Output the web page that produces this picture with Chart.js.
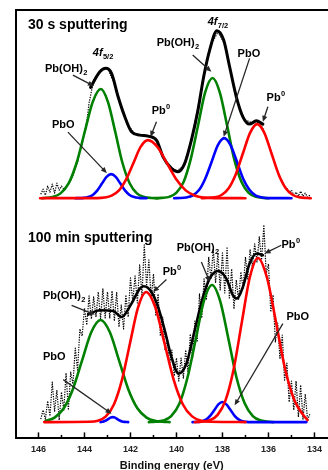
<!DOCTYPE html>
<html><head><meta charset="utf-8">
<script src="https://cdn.jsdelivr.net/npm/chart.js@4.4.1/dist/chart.umd.min.js"></script>
<style>html,body{margin:0;padding:0;background:#fff;}#wrap{width:328px;height:470px;}</style>
</head><body><div id="wrap"><canvas id="c" width="328" height="470"></canvas></div>
<script>
// ---------- DATA (binding energy eV, intensity a.u.) ----------
const tickValues = [146, 144, 142, 140, 138, 136, 134];
const minorTickValues = [146, 145, 144, 143, 142, 141, 140, 139, 138, 137, 136, 135, 134];

// 30 s sputtering
const topGreen1 = [[145.85,0],[145.74,0.2],[145.39,1.2],[145.04,4.8],[144.69,14.7],[144.34,35.4],[143.99,66.1],[143.64,96.2],[143.29,109],[142.98,96.2],[142.66,66.1],[142.35,35.4],[142.03,14.7],[141.72,4.8],[141.40,1.2],[141.09,0.2],[140.80,0]];
const topBlue1 = [[144.40,0],[144.24,0.05],[144.04,0.3],[143.84,1.1],[143.64,3.2],[143.44,7.8],[143.24,14.6],[143.04,21.2],[142.84,24],[142.64,21.2],[142.44,14.6],[142.24,7.8],[142.04,3.2],[141.84,1.1],[141.64,0.3],[141.44,0.05],[141.30,0]];
const topRed1 = [[145.93,0],[143.45,0.1],[143.13,0.6],[142.82,2.5],[142.50,7.8],[142.19,18.8],[141.87,35.2],[141.56,51.2],[141.24,58],[140.83,51.2],[140.42,35.2],[140.01,18.8],[139.60,7.8],[139.19,2.5],[138.78,0.6],[138.37,0.1],[137.00,0]];
const topGreen2 = [[140.90,0],[140.64,0.3],[140.32,1.3],[140.01,5.3],[139.69,16.2],[139.38,39.0],[139.06,72.8],[138.75,105.9],[138.43,120],[138.12,105.9],[137.80,72.8],[137.49,39.0],[137.17,16.2],[136.86,5.3],[136.54,1.3],[136.23,0.3],[136.00,0]];
const topBlue2 = [[140.10,0],[139.85,0.1],[139.57,0.7],[139.30,2.6],[139.02,8.1],[138.75,19.5],[138.47,36.4],[138.20,53.0],[137.92,60],[137.65,53.0],[137.37,36.4],[137.10,19.5],[136.82,8.1],[136.55,2.6],[136.27,0.7],[135.99,0.1],[135.00,0]];
const topRed2 = [[138.90,0],[138.66,0.2],[138.35,0.8],[138.04,3.2],[137.73,10.0],[137.42,24.0],[137.11,44.9],[136.80,65.3],[136.49,74],[136.18,65.3],[135.87,44.9],[135.56,24.0],[135.25,10.0],[134.94,3.2],[134.63,0.8],[134.32,0.2],[134.16,0]];
const topEnvelope = [[143.735,110.7],[143.331,126.3],[143.071,129.7],[142.823,124.7],[142.537,101.3],[142.246,81.3],[141.955,66.3],[141.595,63],[141.235,62],[140.870,58],[140.584,41.3],[140.219,29.7],[139.933,26.3],[139.642,34.7],[139.351,58],[139.065,88],[138.817,121.3],[138.557,148],[138.240,167.3],[137.949,158],[137.689,131.3],[137.398,101.3],[137.112,81.3],[136.821,74],[136.530,77.3],[136.243,74]];
const topRaw = [[145.9,4],[145.8,9],[145.7,3],[145.6,12],[145.5,6],[145.4,14],[145.3,5],[145.2,15],[145.1,8],[145.0,12],[144.9,9],[144.8,11],[144.7,14],[144.6,18],[144.5,23],[144.4,30],[144.3,36],[144.2,47],[144.1,54],[144.0,66],[143.9,76],[143.8,95],[143.6,118],[143.3,128],[143.0,130],[142.7,114],[142.4,90],[142.1,73],[141.8,64],[141.5,63],[141.2,62],[140.9,58],[140.6,42],[140.3,32],[140.0,27],[139.7,32],[139.4,54],[139.1,86],[138.8,124],[138.5,153],[138.2,166],[137.9,154],[137.6,121],[137.3,92],[137.0,78],[136.7,75],[136.4,76],[136.2,68],[136.1,60],[136.0,55],[135.9,48],[135.8,40],[135.7,33],[135.6,27],[135.5,20],[135.4,17],[135.3,12],[135.2,10],[135.1,6],[135.0,8],[134.9,3],[134.8,6],[134.7,2],[134.6,7],[134.5,2],[134.4,5],[134.3,1],[134.2,3]];

// 100 min sputtering
const botGreen1 = [[145.70,1.1],[145.30,4.5],[144.90,13.8],[144.50,33.1],[144.10,61.9],[143.70,90.0],[143.30,102],[142.90,90.0],[142.50,61.9],[142.10,33.1],[141.70,13.8],[141.30,4.5],[140.90,1.1],[140.50,0.2],[140.30,0]];
const botBlue1 = [[143.30,0],[143.27,0.2],[143.17,0.7],[143.07,1.6],[142.97,3.0],[142.87,4.4],[142.77,5],[142.67,4.4],[142.57,3.0],[142.47,1.6],[142.37,0.7],[142.27,0.2],[142.10,0]];
const botRed1 = [[145.75,0],[143.77,0.3],[143.42,1.4],[143.07,5.7],[142.72,17.6],[142.37,42.2],[142.02,78.8],[141.67,114.7],[141.32,130],[140.92,114.7],[140.52,78.8],[140.12,42.2],[139.72,17.6],[139.32,5.7],[138.92,1.4],[138.52,0.3],[137.00,0]];
const botGreen2 = [[141.20,0],[140.93,0.3],[140.58,1.5],[140.23,6.0],[139.87,18.5],[139.52,44.5],[139.16,83.1],[138.81,120.9],[138.45,137],[138.10,120.9],[137.74,83.1],[137.39,44.5],[137.03,18.5],[136.68,6.0],[136.32,1.5],[135.97,0.3],[135.80,0]];
const botBlue2 = [[139.30,0],[139.05,0.2],[138.88,0.9],[138.70,2.7],[138.53,6.5],[138.35,12.1],[138.18,17.7],[138.00,20],[137.83,17.7],[137.65,12.1],[137.48,6.5],[137.30,2.7],[137.13,0.9],[136.95,0.2],[136.78,0],[134.35,0]];
const botRed2 = [[139.20,0],[138.91,0.4],[138.56,1.8],[138.21,7.2],[137.86,22.2],[137.51,53.3],[137.16,99.5],[136.81,144.7],[136.46,164],[136.07,144.7],[135.67,99.5],[135.28,53.3],[134.88,22.2],[134.49,7.2],[134.30,2]];
const botEnvelope = [[143.839,107.4],[143.331,111.7],[142.754,111],[142.389,105],[141.955,118.4],[141.595,133.4],[141.421,135.7],[141.087,130],[140.801,115],[140.510,91.7],[140.219,65],[139.902,48.4],[139.568,58.4],[139.208,91.7],[138.848,125],[138.557,143.4],[138.197,151],[137.832,143.4],[137.546,126.7],[137.372,123.4],[137.112,135],[136.821,158.4],[136.504,168.4],[136.243,166.7]];
const botRaw = [[145.9,3],[145.8,12],[145.7,3],[145.6,21],[145.5,6],[145.4,40],[145.3,11],[145.2,32],[145.1,2],[145.0,30],[144.9,12],[144.8,49],[144.7,12],[144.6,50],[144.5,38],[144.4,74],[144.3,52],[144.2,93],[144.1,86],[144.0,114],[143.9,97],[143.8,126],[143.7,103],[143.6,125],[143.5,105],[143.4,130],[143.3,103],[143.2,133],[143.1,104],[143.0,130],[142.9,104],[142.8,131],[142.7,101],[142.6,130],[142.5,95],[142.4,117],[142.3,93],[142.2,127],[142.1,105],[142.0,144],[141.9,120],[141.8,146],[141.7,119],[141.6,157],[141.5,126],[141.4,177],[141.3,136],[141.2,162],[141.1,123],[141.0,148],[140.9,107],[140.8,128],[140.7,86],[140.6,105],[140.5,72],[140.4,85],[140.3,57],[140.2,72],[140.1,46],[140.0,64],[139.9,41],[139.8,64],[139.7,44],[139.6,72],[139.5,50],[139.4,88],[139.3,64],[139.2,101],[139.1,80],[139.0,128],[138.9,104],[138.8,143],[138.7,122],[138.6,165],[138.5,143],[138.4,173],[138.3,139],[138.2,169],[138.1,132],[138.0,169],[137.9,129],[137.8,175],[137.7,124],[137.6,153],[137.5,113],[137.4,142],[137.3,122],[137.2,150],[137.1,133],[137.0,165],[136.9,143],[136.8,172],[136.7,155],[136.6,178],[136.5,160],[136.4,185],[136.3,162],[136.2,197],[136.1,148],[136.0,158],[135.9,110],[135.8,127],[135.7,80],[135.6,99],[135.5,63],[135.4,87],[135.3,42],[135.2,59],[135.1,20],[135.0,41],[134.9,12],[134.8,41],[134.7,5],[134.6,37],[134.5,3],[134.4,28],[134.3,2],[134.2,8]];

// annotation texts (anchored in data space)
const labelText  = ['30 s sputtering','4f','Pb(OH)','PbO','Pb','4f','Pb(OH)','PbO','Pb','100 min sputtering','Pb(OH)','PbO','Pb','Pb(OH)','Pb','PbO'];
const labelSub   = ['','5/2','2','','','7/2','2','','','','2','','','2','',''];
const labelSup   = ['','','','','0','','','','0','','','','0','','0',''];
const labelPanel = ['yT','yT','yT','yT','yT','yT','yT','yT','yT','yB','yB','yB','yB','yB','yB','yB'];
const labelX     = [146.456,143.635,145.718,145.415,141.074,138.644,140.857,137.342,136.083,146.456,145.805,145.805,140.597,139.989,135.432,135.215];
const labelY     = [173,145,129,73,87,176,155,144.5,100,183.7,125.7,64.7,149.7,173.7,176.7,105.2];
const arrowPanel = ['yT','yT','yT','yT','yT','yT','yB','yB','yB','yB','yB','yB'];
const arrowFrom  = [[144.503,123],[144.720,66],[140.870,76.3],[139.295,143],[136.821,139.7],[136.026,91.3],[144.559,116.7],[144.924,42.4],[140.436,142.4],[138.917,160],[135.445,176.7],[135.375,98.4]];
const arrowTo    = [[143.592,112],[143.027,25],[141.131,61.3],[138.483,126.3],[137.949,61.3],[136.243,76.3],[143.548,107.4],[142.823,8.4],[141.018,130],[138.557,140],[136.170,168.4],[137.472,16.7]];

// ---------- CHART ----------
const FONT = '"Liberation Sans", Arial, Helvetica, sans-serif';
const X_MIN = 133.436, X_MAX = 146.977;
const RED = '#ff0000', GREEN = '#008000', BLUE = '#0000ff', BLACK = '#000000';
function pts(a){ return a.map(p => ({x: p[0], y: p[1]})); }
function line(data, color, width, yAxisID, order, extra){
  return Object.assign({ data: pts(data), borderColor: color, backgroundColor: color, borderWidth: width,
    pointRadius: 0, fill: false, xAxisID: 'x', yAxisID: yAxisID, order: order,
    cubicInterpolationMode: 'monotone', borderCapStyle: 'round', borderJoinStyle: 'round' }, extra || {});
}
const rawStyle = { borderDash: [1.3, 1.2], cubicInterpolationMode: 'default', tension: 0, borderCapStyle: 'butt' };

const datasets = [
  line(topRed1, RED, 2.6, 'yT', 1), line(topRed2, RED, 2.6, 'yT', 1),
  line(topBlue1, BLUE, 2.6, 'yT', 2), line(topBlue2, BLUE, 2.6, 'yT', 2),
  line(topGreen1, GREEN, 2.6, 'yT', 3), line(topGreen2, GREEN, 2.6, 'yT', 3),
  line(topEnvelope, BLACK, 3, 'yT', 4),
  line(topRaw, BLACK, 1.2, 'yT', 5, rawStyle),
  line(botRed1, RED, 2.6, 'yB', 1), line(botRed2, RED, 2.6, 'yB', 1),
  line(botBlue1, BLUE, 2.6, 'yB', 2), line(botBlue2, BLUE, 2.6, 'yB', 2),
  line(botGreen1, GREEN, 2.6, 'yB', 3), line(botGreen2, GREEN, 2.6, 'yB', 3),
  line(botEnvelope, BLACK, 2.6, 'yB', 4),
  line(botRaw, BLACK, 1.2, 'yB', 5, rawStyle)
];

function drawArrow(ctx, x1, y1, x2, y2){
  const a = Math.atan2(y2 - y1, x2 - x1), L = 6, W = 2.6;
  ctx.beginPath(); ctx.moveTo(x1, y1); ctx.lineTo(x2 - L * 0.7 * Math.cos(a), y2 - L * 0.7 * Math.sin(a)); ctx.stroke();
  ctx.beginPath(); ctx.moveTo(x2, y2);
  ctx.lineTo(x2 - L * Math.cos(a) + W * Math.sin(a), y2 - L * Math.sin(a) - W * Math.cos(a));
  ctx.lineTo(x2 - L * Math.cos(a) - W * Math.sin(a), y2 - L * Math.sin(a) + W * Math.cos(a));
  ctx.closePath(); ctx.fill();
}

const overlay = {
  id: 'overlay',
  afterDatasetsDraw(chart){
    const ctx = chart.ctx, xs = chart.scales.x, ca = chart.chartArea;
    ctx.save();
    ctx.strokeStyle = '#000'; ctx.lineWidth = 1.5;
    minorTickValues.forEach(v => {
      const px = xs.getPixelForValue(v);
      const len = tickValues.includes(v) ? 5 : 2.5;
      ctx.beginPath(); ctx.moveTo(px, ca.bottom - 1); ctx.lineTo(px, ca.bottom - 1 - len); ctx.stroke();
    });
    ctx.strokeStyle = '#262626'; ctx.fillStyle = '#262626'; ctx.lineWidth = 1.3;
    arrowFrom.forEach((f, i) => {
      const ys = chart.scales[arrowPanel[i]], t = arrowTo[i];
      drawArrow(ctx, xs.getPixelForValue(f[0]), ys.getPixelForValue(f[1]), xs.getPixelForValue(t[0]), ys.getPixelForValue(t[1]));
    });
    ctx.fillStyle = '#000'; ctx.textBaseline = 'middle'; ctx.textAlign = 'left';
    labelText.forEach((t, i) => {
      const ys = chart.scales[labelPanel[i]];
      const px = xs.getPixelForValue(labelX[i]), py = ys.getPixelForValue(labelY[i]);
      const isTitle = t.indexOf('sputtering') >= 0;
      const size = isTitle ? 14 : 11;
      const italic = t === '4f' ? 'italic ' : '';
      ctx.font = italic + 'bold ' + size + 'px ' + FONT;
      ctx.fillText(t, px, py);
      const w = ctx.measureText(t).width;
      if (labelSub[i]) { ctx.font = 'bold ' + (size * 0.68) + 'px ' + FONT; ctx.fillText(labelSub[i], px + w + 0.3, py + size * 0.32); }
      if (labelSup[i]) { ctx.font = 'bold ' + (size * 0.68) + 'px ' + FONT; ctx.fillText(labelSup[i], px + w + 0.3, py - size * 0.36); }
    });
    ctx.restore();
  }
};

const noAxisDecor = () => ({ ticks: { display: false }, grid: { display: false, drawTicks: false }, border: { display: true, color: '#000', width: 2 } });

new Chart(document.getElementById('c'), {
  type: 'line',
  data: { datasets: datasets },
  options: {
    responsive: false, maintainAspectRatio: false, animation: false,
    layout: { padding: { left: 16, top: 10, right: 0, bottom: 0 } },
    plugins: { legend: { display: false }, tooltip: { enabled: false } },
    scales: {
      x: { type: 'linear', position: 'bottom', reverse: true, min: X_MIN, max: X_MAX,
        afterBuildTicks: s => { s.ticks = tickValues.map(v => ({ value: v })); },
        ticks: { font: { family: FONT, size: 9, weight: 'bold' }, color: '#222', padding: 6, maxRotation: 0, autoSkip: false, callback: v => String(v) },
        grid: { display: false, drawTicks: false },
        border: { display: true, color: '#000', width: 2 },
        title: { display: true, text: 'Binding energy (eV)', color: '#111', font: { family: FONT, size: 11, weight: 'bold', lineHeight: 0.8 }, padding: { top: 0, bottom: 0 } } },
      xTop: Object.assign({ type: 'linear', position: 'top', reverse: true, min: X_MIN, max: X_MAX }, noAxisDecor()),
      yB: Object.assign({ type: 'linear', position: 'left', stack: 'panels', stackWeight: 225, min: -16.3, max: 208.7 }, noAxisDecor()),
      yT: Object.assign({ type: 'linear', position: 'left', stack: 'panels', stackWeight: 203, min: -15, max: 188 }, noAxisDecor())
    }
  },
  plugins: [overlay]
});
</script></body></html>
